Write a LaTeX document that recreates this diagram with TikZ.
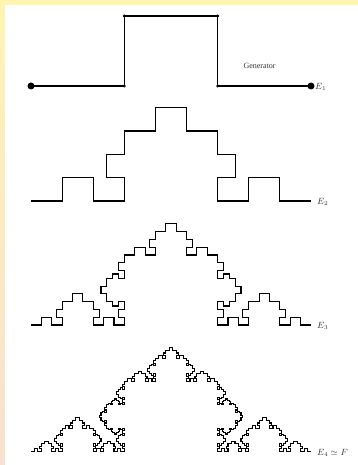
\documentclass[tikz,border=0pt]{standalone}
\usepackage{fontspec}
\setmainfont{Liberation Serif}
\definecolor{bandyellow}{HTML}{FFF4B0}
\definecolor{bandpeach}{HTML}{FAE0D0}
\definecolor{labelgrey}{HTML}{333333}
% recursive generator: level, x1, y1, x2, y2 (picture coords, y pointing down)
\def\gpts{}
\def\gseg#1#2#3#4#5{%
  \ifnum#1=0
    \xdef\gpts{\gpts -- (#4,#5)}%
  \else
    \begingroup
    \edef\gAx{\fpeval{round(#2+(#4-#2)/3,4)}}%
    \edef\gAy{\fpeval{round(#3+(#5-#3)/3,4)}}%
    \edef\gBx{\fpeval{round(#2+(#4-#2)/3+(#5-#3)/4,4)}}%
    \edef\gBy{\fpeval{round(#3+(#5-#3)/3-(#4-#2)/4,4)}}%
    \edef\gCx{\fpeval{round(#2+2*(#4-#2)/3+(#5-#3)/4,4)}}%
    \edef\gCy{\fpeval{round(#3+2*(#5-#3)/3-(#4-#2)/4,4)}}%
    \edef\gDx{\fpeval{round(#2+2*(#4-#2)/3,4)}}%
    \edef\gDy{\fpeval{round(#3+2*(#5-#3)/3,4)}}%
    \edef\gLv{\the\numexpr#1-1\relax}%
    \edef\gNext{%
      \noexpand\gseg{\gLv}{#2}{#3}{\gAx}{\gAy}%
      \noexpand\gseg{\gLv}{\gAx}{\gAy}{\gBx}{\gBy}%
      \noexpand\gseg{\gLv}{\gBx}{\gBy}{\gCx}{\gCy}%
      \noexpand\gseg{\gLv}{\gCx}{\gCy}{\gDx}{\gDy}%
      \noexpand\gseg{\gLv}{\gDx}{\gDy}{#4}{#5}%
    }%
    \expandafter\endgroup\gNext
  \fi}
\newcommand\drawgen[4]{% level, x1, x2, y
  \gdef\gpts{}%
  \gseg{#1}{#2}{#4}{#3}{#4}%
  \edef\gCmd{\noexpand\draw[curve] (#2,#4) \gpts;}%
  \gCmd}
\tikzset{
  curve/.style={draw=black, line width=1.1pt, line join=miter},
  bigdot/.style={circle, fill=black, inner sep=0pt, minimum size=7pt},
  smalldot/.style={circle, fill=black, inner sep=0pt, minimum size=3.2pt},
  lab/.style={text=labelgrey, font=\fontsize{9}{10}\selectfont, anchor=west, inner sep=0pt},
}
\begin{document}
\begin{tikzpicture}[x=1pt, y=-1pt]
\useasboundingbox (0,0) rectangle (358,465);
\fill[bandyellow] (0,0) rectangle (358,5);
\shade[top color=bandyellow, bottom color=bandpeach] (0,0) rectangle (5,465);
\fill[white] (5,5) rectangle (358,465);

% E1 generator
\node[bigdot] (a0) at (31,86) {};
\node[smalldot] (a1) at (124.33,86) {};
\node[smalldot] (a2) at (124.33,16) {};
\node[smalldot] (a3) at (217.67,16) {};
\node[smalldot] (a4) at (217.67,86) {};
\node[bigdot] (a5) at (311,86) {};
\draw[curve] (a0.center) -- (a1.center) -- (a2.center) -- (a3.center) -- (a4.center) -- (a5.center);
\node[text=labelgrey, font=\fontsize{8}{9}\selectfont] (gen) at (259.5,66) {Generator};
\node[lab] (l1) at (315,87) {$E_1$};

% E2, E3, E4
\drawgen{2}{31}{311}{201}
\node[lab] (l2) at (317,202) {$E_2$};
\drawgen{3}{31}{311}{325}
\node[lab] (l3) at (317,326) {$E_3$};
\drawgen{4}{31}{311}{451.5}
\node[lab] (l4) at (317,452.5) {$E_4\simeq F$};
\end{tikzpicture}
\end{document}
